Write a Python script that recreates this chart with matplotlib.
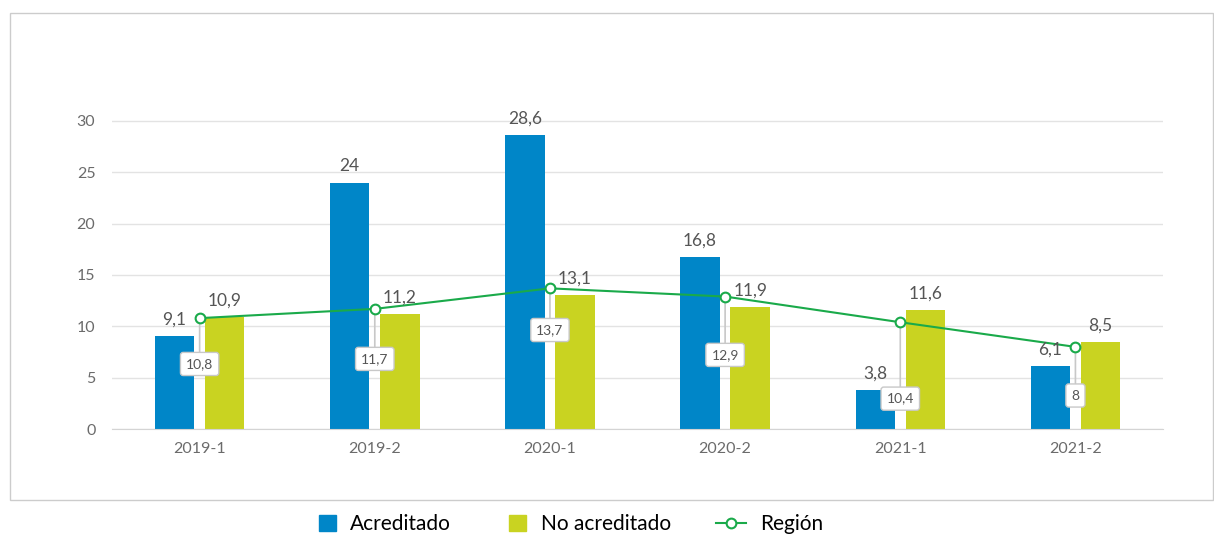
import matplotlib.pyplot as plt
from matplotlib.patches import Rectangle, Patch
from matplotlib.lines import Line2D
from matplotlib.legend_handler import HandlerPatch
import numpy as np

plt.rcParams['font.family'] = ['Lato', 'DejaVu Sans']

# Datos
periodos = ['2019-1', '2019-2', '2020-1', '2020-2', '2021-1', '2021-2']
acreditado = [9.1, 24, 28.6, 16.8, 3.8, 6.1]
no_acreditado = [10.9, 11.2, 13.1, 11.9, 11.6, 8.5]
region = [10.8, 11.7, 13.7, 12.9, 10.4, 8]

# Desplazamiento vertical (pt) de las etiquetas de la línea
desplaz_etiquetas = [-33, -36, -30, -42, -55, -35]

AZUL = '#0086c8'
VERDE_AMARILLO = '#c9d321'
VERDE = '#1aaa4a'
GRIS_TEXTO = '#555555'


def fmt(v):
    s = f'{v:.1f}'.replace('.', ',')
    return s[:-2] if s.endswith(',0') else s


# Cuadrado pegado a la derecha del hueco del manejador
def cuadrado(legend, orig_handle, xdescent, ydescent, width, height, fontsize):
    lado = 12
    return Rectangle((-xdescent + width - lado, -ydescent + (height - lado) / 2),
                     lado, lado)


fig = plt.figure(figsize=(12.14, 5.35), dpi=100)
ax = fig.add_axes([0.0923, 0.198, 0.8657, 0.672])

x = np.arange(len(periodos))
ancho = 0.225
b1 = ax.bar(x - 0.143, acreditado, ancho, color=AZUL, zorder=2)
b2 = ax.bar(x + 0.143, no_acreditado, ancho, color=VERDE_AMARILLO, zorder=2)

for barras, vals in ((b1, acreditado), (b2, no_acreditado)):
    for b, v in zip(barras, vals):
        ax.annotate(fmt(v), (b.get_x() + b.get_width() / 2, v),
                    xytext=(0, 6), textcoords='offset points',
                    ha='center', va='bottom', fontsize=12.5, color=GRIS_TEXTO,
                    zorder=5)

ax.plot(x, region, color=VERDE, lw=1.5, marker='o', markersize=7,
        markerfacecolor='white', markeredgecolor=VERDE, markeredgewidth=1.5,
        zorder=4)

for xi, v, dy in zip(x, region, desplaz_etiquetas):
    ax.annotate(fmt(v), (xi, v), xytext=(0, dy), textcoords='offset points',
                ha='center', va='center', fontsize=10, color=GRIS_TEXTO,
                bbox=dict(boxstyle='round,pad=0.4,rounding_size=0.2',
                          fc='white', ec='#c8c8c8', lw=1),
                arrowprops=dict(arrowstyle='-', color='#c8c8c8', lw=1.2,
                                shrinkA=0, shrinkB=4),
                zorder=3)

ax.set_xlim(-0.5, len(periodos) - 0.5)
ax.set_ylim(0, 35)
ax.set_yticks(range(0, 31, 5))
ax.set_xticks(x)
ax.set_xticklabels(periodos)
ax.tick_params(axis='both', length=0, labelsize=11.5, colors='#6b6b6b')
ax.tick_params(axis='x', pad=9)
ax.tick_params(axis='y', pad=12)
ax.grid(axis='y', color='#e3e3e3', lw=1, zorder=0)
ax.set_axisbelow(True)
for s in ('top', 'right', 'left'):
    ax.spines[s].set_visible(False)
ax.spines['bottom'].set_color('#d4d4d4')

# Marco exterior
fig.patches.append(Rectangle((10 / 1214, 35 / 535), 1203 / 1214, 487 / 535,
                             transform=fig.transFigure, fill=False,
                             ec='#cccccc', lw=1))

manejadores = [
    Patch(color=AZUL, label='Acreditado'),
    Patch(color=VERDE_AMARILLO, label='No acreditado'),
    Line2D([], [], color=VERDE, lw=1.5, marker='o', markersize=7,
           markerfacecolor='white', markeredgewidth=1.5, label='Región'),
]
fig.legend(handles=manejadores, loc='center', bbox_to_anchor=(0.465, 0.02),
           ncol=3, frameon=False, fontsize=15, columnspacing=2.15,
           handlelength=1.45, handletextpad=0.7,
           handler_map={Patch: HandlerPatch(patch_func=cuadrado)})

fig.savefig('out.png', dpi=100)
